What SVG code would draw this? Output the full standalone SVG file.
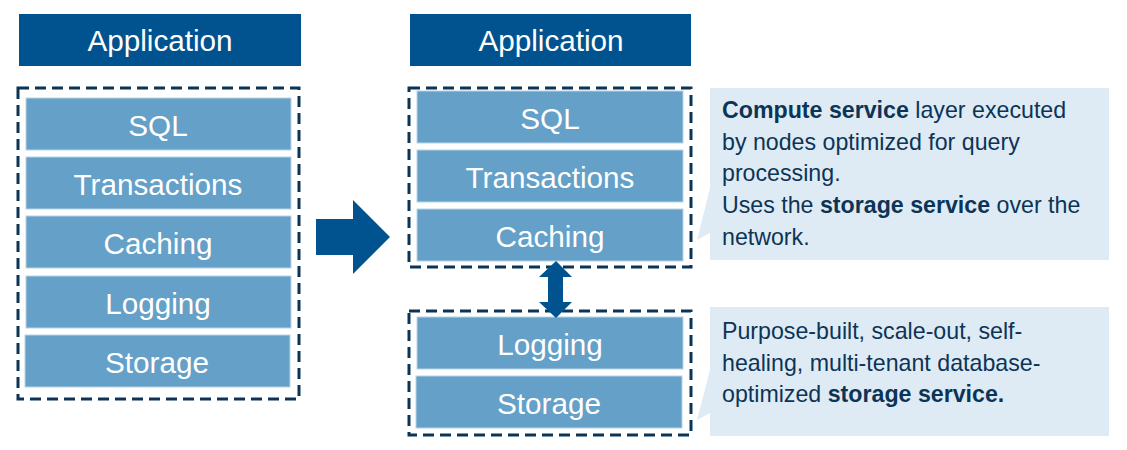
<svg xmlns="http://www.w3.org/2000/svg" width="1127" height="450" viewBox="0 0 1127 450">
<style>
.app{fill:#01538f;}
.apptxt{fill:#fff;font-family:"Liberation Sans",Arial,sans-serif;font-size:29.7px;text-anchor:middle;}
.layer{fill:#65a0c8;stroke:#b8d3e8;stroke-width:1;}
.ltxt{fill:#fff;font-family:"Liberation Sans",Arial,sans-serif;font-size:29.7px;text-anchor:middle;}
.dash{fill:none;stroke:#0b3457;stroke-width:3;stroke-dasharray:11 6;}
.call{fill:#dfebf4;}
.ctxt{fill:#0c3457;font-family:"Liberation Sans",Arial,sans-serif;font-size:23.2px;}
.b{font-weight:bold;}
.arrow{fill:#01538f;}
</style>
<rect width="1127" height="450" fill="#fff"/>

<g id="left-application"><rect class="app" x="19" y="14" width="282" height="52"/><text class="apptxt" x="160" y="51">Application</text></g>
<g id="left-stack">
<rect class="dash" x="18" y="88" width="281" height="311"/>
<g id="left-sql"><rect class="layer" x="26" y="98" width="265" height="52"/><text class="ltxt" x="158" y="136">SQL</text></g>
<g id="left-transactions"><rect class="layer" x="26" y="157" width="265" height="52"/><text class="ltxt" x="158" y="195">Transactions</text></g>
<g id="left-caching"><rect class="layer" x="26" y="216" width="265" height="52"/><text class="ltxt" x="158" y="254">Caching</text></g>
<g id="left-logging"><rect class="layer" x="26" y="276" width="265" height="52"/><text class="ltxt" x="158" y="314">Logging</text></g>
<g id="left-storage"><rect class="layer" x="25" y="335" width="265" height="52"/><text class="ltxt" x="157" y="373">Storage</text></g>
</g>

<g id="right-application"><rect class="app" x="410" y="14" width="281" height="52"/><text class="apptxt" x="551" y="51">Application</text></g>
<g id="compute-stack">
<rect class="dash" x="409" y="88" width="282" height="179"/>
<g id="right-sql"><rect class="layer" x="417" y="91" width="266" height="52"/><text class="ltxt" x="550" y="129">SQL</text></g>
<g id="right-transactions"><rect class="layer" x="417" y="150" width="266" height="52"/><text class="ltxt" x="550" y="188">Transactions</text></g>
<g id="right-caching"><rect class="layer" x="417" y="209" width="266" height="52"/><text class="ltxt" x="550" y="247">Caching</text></g>
</g>
<g id="storage-stack">
<rect class="dash" x="409" y="311" width="282" height="124"/>
<g id="right-logging"><rect class="layer" x="417" y="317" width="266" height="52"/><text class="ltxt" x="550" y="355">Logging</text></g>
<g id="right-storage"><rect class="layer" x="416" y="376" width="266" height="52"/><text class="ltxt" x="549" y="414">Storage</text></g>
</g>

<g id="callout-compute">
<path class="call" d="M710 88 H1109 V260 H710 V233 L697 240 L710 188 Z"/>
<text class="ctxt" x="722" y="118"><tspan class="b">Compute service</tspan> layer executed</text>
<text class="ctxt" x="722" y="149.5">by nodes optimized for query</text>
<text class="ctxt" x="722" y="181">processing.</text>
<text class="ctxt" x="722" y="213">Uses the <tspan class="b">storage service</tspan> over the</text>
<text class="ctxt" x="722" y="244.5">network.</text>
</g>
<g id="callout-storage">
<path class="call" d="M710 307 H1109 V436 H710 V413 L697 420 L710 370 Z"/>
<text class="ctxt" x="722" y="339">Purpose-built, scale-out, self-</text>
<text class="ctxt" x="722" y="370.5">healing, multi-tenant database-</text>
<text class="ctxt" x="722" y="402">optimized <tspan class="b">storage service.</tspan></text>
</g>

<g id="connectors">
<path class="arrow" d="M316 219 H353 V200 L390 237 L353 274 V255 H316 Z"/>
<path class="arrow" d="M556 261 L572 277 H563 V302 H572 L556 318 L539 302 H548 V277 H539 Z"/>
</g>
</svg>
